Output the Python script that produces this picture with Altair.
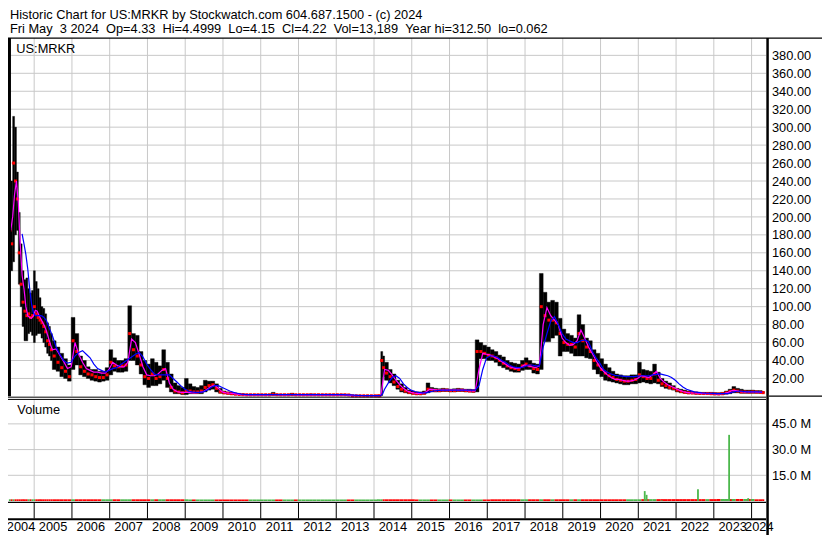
import altair as alt
import pandas as pd

# ------------------------------------------------------------------ texts
TITLE_LINE_1 = "Historic Chart for US:MRKR by Stockwatch.com 604.687.1500 - (c) 2024"
TITLE_LINE_2 = ("Fri May\u00a0\u00a03 2024\u00a0\u00a0Op=4.33\u00a0\u00a0Hi=4.4999\u00a0\u00a0"
                "Lo=4.15\u00a0\u00a0Cl=4.22\u00a0\u00a0Vol=13,189\u00a0\u00a0Year hi=312.50\u00a0\u00a0lo=0.062")
SYMBOL = "US:MRKR"
VOLUME_TITLE = "Volume"

# ------------------------------------------------------------------ data
# time of each sample in decimal years
t = [2004.33, 2004.38, 2004.43, 2004.48, 2004.53, 2004.58, 2004.63, 2004.68, 2004.73, 2004.78,
     2004.83, 2004.88, 2004.93, 2004.98, 2005.03, 2005.08, 2005.13, 2005.18, 2005.23, 2005.28,
     2005.33, 2005.38, 2005.43, 2005.48, 2005.58, 2005.68, 2005.78, 2005.88, 2005.98,
     2006.08, 2006.18, 2006.28, 2006.38, 2006.48, 2006.58, 2006.68, 2006.78, 2006.88, 2006.98,
     2007.08, 2007.18, 2007.28, 2007.38, 2007.48, 2007.58, 2007.68, 2007.78, 2007.88, 2007.98,
     2008.08, 2008.18, 2008.28, 2008.38, 2008.48, 2008.58, 2008.68, 2008.78, 2008.88, 2008.98,
     2009.08, 2009.18, 2009.28, 2009.38, 2009.48, 2009.58, 2009.68, 2009.78, 2009.88, 2009.98,
     2010.08, 2010.18, 2010.28, 2010.38, 2010.48, 2010.58, 2010.68, 2010.78, 2010.88, 2010.98,
     2011.08, 2011.18, 2011.28, 2011.38, 2011.48, 2011.58, 2011.68, 2011.78, 2011.88, 2011.98,
     2012.08, 2012.18, 2012.28, 2012.38, 2012.48, 2012.58, 2012.68, 2012.78, 2012.88, 2012.98,
     2013.08, 2013.18, 2013.28, 2013.38, 2013.48, 2013.58, 2013.68, 2013.78, 2013.88, 2013.98,
     2014.08, 2014.13, 2014.18, 2014.23, 2014.28, 2014.38, 2014.48, 2014.58, 2014.68, 2014.78, 2014.88, 2014.98,
     2015.08, 2015.18, 2015.28, 2015.38, 2015.48, 2015.58, 2015.68, 2015.78, 2015.88, 2015.98,
     2016.08, 2016.18, 2016.28, 2016.38, 2016.48, 2016.58, 2016.68, 2016.78, 2016.88, 2016.98,
     2017.08, 2017.18, 2017.28, 2017.38, 2017.48, 2017.58, 2017.68, 2017.78, 2017.88, 2017.98,
     2018.08, 2018.18, 2018.28, 2018.38, 2018.48, 2018.58, 2018.68, 2018.78, 2018.88, 2018.98,
     2019.08, 2019.18, 2019.28, 2019.38, 2019.48, 2019.58, 2019.68, 2019.78, 2019.88, 2019.98,
     2020.08, 2020.18, 2020.28, 2020.38, 2020.48, 2020.58, 2020.68, 2020.78, 2020.88, 2020.98,
     2021.08, 2021.18, 2021.28, 2021.38, 2021.48, 2021.58, 2021.68, 2021.78, 2021.88, 2021.98,
     2022.08, 2022.18, 2022.28, 2022.38, 2022.48, 2022.58, 2022.68, 2022.78, 2022.88, 2022.98,
     2023.08, 2023.18, 2023.28, 2023.38, 2023.48, 2023.58, 2023.68, 2023.78, 2023.88, 2023.98,
     2024.08, 2024.18, 2024.28]
LAST_DAY = 2024.336  # Fri May 3 2024

high = [228, 240, 312, 300, 250, 205, 170, 140, 130, 132, 120, 115, 118, 140, 128, 120, 110, 100, 98, 92,
        82, 78, 70, 62, 55, 48, 42, 35, 88,
        70, 45, 40, 33, 30, 30, 28, 28, 32, 52,
        43, 40, 40, 42, 101, 70, 68, 50, 40, 36,
        42, 38, 34, 52, 38, 25, 15, 12, 10, 20,
        14, 11, 10, 12, 18, 17, 17, 14, 9, 6,
        5, 4.5, 3.5, 3, 2.8, 2.4, 2.4, 2.4, 2.4, 2.4,
        2.4, 2.4, 4.5, 2.6, 2.4, 2.4, 2.4, 3.5, 2.4, 2.4,
        2.4, 2.4, 2.8, 2.4, 2.4, 2.4, 2.4, 2.4, 2.4, 2.4,
        2.4, 2.4, 2.2, 1.0, 1.0, 1.0, 1.0, 1.0, 1.0, 1.0,
        1.0, 1.0, 50, 45, 38, 30, 25, 18, 14, 10, 7, 6,
        5, 5, 6, 15, 10, 9, 8.5, 9, 8.5, 8,
        8.5, 9, 8.5, 8, 8, 7.5, 63, 60, 57, 55,
        52, 50, 46, 44, 40, 38, 37, 36, 40, 43,
        40, 37, 36, 137, 116, 105, 107, 105, 87, 75,
        70, 68, 65, 91, 80, 65, 62, 52, 48, 42,
        36, 32, 28, 25, 24, 23, 23, 24, 24, 38,
        30, 29, 28, 36, 27, 20, 17, 15, 12, 9,
        8, 7, 6, 5.5, 5, 4.5, 4.5, 4.5, 4.5, 4.2,
        4, 4.5, 6, 8, 11, 9, 8, 7, 7, 7,
        6.5, 6.5, 5.5]

low = [150, 140, 150, 180, 185, 125, 100, 78, 62, 62, 70, 72, 68, 60, 68, 70, 70, 65, 60, 55,
       48, 45, 40, 30, 28, 22, 20, 17, 30,
       35, 24, 22, 20, 18, 17, 16, 17, 18, 24,
       28, 27, 27, 28, 40, 40, 35, 25, 13, 10,
       12, 12, 14, 18, 10, 5, 3, 3, 2, 2,
       3, 3, 3, 3, 5, 7, 8, 5, 3.5, 3,
       2.5, 2, 1.8, 1.5, 1.4, 1.3, 1.3, 1.3, 1.3, 1.3,
       1.3, 1.3, 1.3, 1.3, 1.3, 1.3, 1.3, 1.3, 1.3, 1.3,
       1.3, 1.3, 1.3, 1.3, 1.3, 1.3, 1.3, 1.3, 1.3, 1.3,
       1.3, 1.3, 1.2, 0.5, 0.5, 0.5, 0.5, 0.5, 0.5, 0.5,
       0.5, 0.5, 1, 22, 18, 15, 12, 8, 5, 4, 3, 2.5,
       2, 2, 2.5, 4, 5, 5, 5, 5.5, 5.5, 5,
       5, 5.5, 5.5, 5, 5, 4.5, 5, 42, 42, 40,
       40, 38, 34, 32, 30, 28, 27, 27, 29, 30,
       30, 26, 25, 30, 61, 61, 65, 68, 45, 50,
       50, 48, 45, 45, 45, 43, 42, 30, 25, 22,
       18, 17, 16, 15, 14, 13, 13, 14, 14, 15,
       16, 15, 14, 15, 14, 11, 9, 8, 7, 5,
       4, 3.5, 3, 3, 2.5, 2.5, 2.5, 2.5, 2.2, 2,
       2, 2, 2.5, 3, 4, 4, 3.5, 3.5, 3.5, 3.5,
       3.5, 3.5, 3.8]

close = [185, 170, 260, 240, 220, 160, 125, 105, 95, 90, 92, 88, 90, 100, 92, 88, 85, 82, 78, 72,
         62, 58, 52, 45, 38, 32, 28, 22, 62,
         50, 33, 28, 25, 24, 22, 21, 21, 24, 38,
         34, 33, 34, 35, 70, 52, 45, 35, 22, 20,
         25, 20, 22, 30, 20, 10, 6, 5, 4, 6,
         6, 5, 5, 6, 10, 12, 13, 9, 5, 4,
         3.5, 3, 2.5, 2.2, 2, 1.8, 1.8, 1.8, 1.8, 1.8,
         1.8, 1.8, 2.2, 1.9, 1.8, 1.8, 1.8, 2, 1.8, 1.8,
         1.8, 1.8, 1.8, 1.8, 1.8, 1.8, 1.8, 1.8, 1.8, 1.8,
         1.8, 1.8, 1.6, 0.7, 0.7, 0.7, 0.7, 0.7, 0.7, 0.7,
         0.7, 0.7, 40, 32, 26, 22, 16, 11, 8, 6, 4.5, 3.5,
         3, 3, 3.5, 8, 7, 6.5, 6.5, 7, 7, 6.5,
         6.5, 7, 7, 6.5, 6, 6, 50, 50, 48, 46,
         45, 43, 40, 37, 34, 32, 31, 30, 34, 36,
         34, 31, 30, 100, 90, 85, 85, 82, 70, 60,
         58, 58, 55, 70, 62, 55, 50, 40, 35, 30,
         26, 23, 21, 19, 18, 17, 17, 18, 19, 24,
         22, 20, 20, 25, 18, 14, 12, 10, 9, 7,
         5.5, 4.5, 4, 3.8, 3.5, 3.3, 3.2, 3.2, 3, 2.8,
         2.7, 3, 4, 5.5, 7, 6, 5, 5, 4.8, 5,
         4.8, 4.5, 4.2]

# short moving average (magenta) and long moving average (blue)
ma_short = [None, 185, 200, 225, 240, 215, 170, 135, 120, 100, 90, 88, 87, 90, 96, 95, 90, 86, 82, 78,
            72, 65, 58, 52, 53, 46, 39, 31, 33,
            60, 47, 38, 31, 29, 27, 27, 26, 26, 30,
            38, 35, 33, 33, 38, 64, 60, 47, 33, 24,
            23, 23, 25, 29, 31, 15, 8, 5.5, 4.5, 4.5,
            4.5, 4, 4, 4.5, 5.5, 8, 11, 12.5, 9, 5,
            4, 3.5, 3, 2.5, 2, 1.8, 1.8, 1.8, 1.8, 1.8,
            1.8, 1.8, 2, 2, 1.9, 1.8, 1.8, 1.9, 1.9, 1.8,
            1.8, 1.8, 1.8, 1.8, 1.8, 1.8, 1.8, 1.8, 1.8, 1.8,
            1.8, 1.8, 1.7, 0.9, 0.7, 0.7, 0.7, 0.7, 0.7, 0.7,
            0.7, 0.7, 1, 15, 30, 29, 24, 18, 13, 9, 6, 4.5,
            3.5, 3, 3.5, 5, 8, 7.5, 7, 7, 7, 7,
            7, 7, 7, 7, 6.5, 6, 6, 30, 48, 47,
            46, 44, 42, 39, 36, 33, 32, 31, 32, 35,
            34, 33, 32, 34, 80, 99, 90, 85, 80, 65,
            60, 57, 58, 62, 74, 65, 55, 48, 40, 33,
            28, 24, 21, 19, 19, 18, 17, 17, 18, 20,
            23, 22, 21, 24, 28, 20, 16, 13, 11, 9,
            7, 5.5, 4.5, 4, 3.8, 3.5, 3.3, 3.2, 3.1, 3,
            2.8, 2.8, 3.5, 4.5, 6.5, 6.5, 5.5, 5, 5, 5,
            5, 4.8, 4.5]

ma_long = [None, None, None, None, None, None, None, 181, 170, 158, 142, 120, 103, 93, 90, 90, 90, 90, 89, 87,
           84, 78, 73, 68, 55, 47, 40, 37, 38,
           45, 49, 51, 47, 43, 36, 31, 29, 27, 29,
           31, 32, 35, 38, 41, 44, 47, 49, 44, 36,
           30, 25, 24, 24, 24, 24, 20, 16, 12, 8.5,
           6, 5, 4.5, 4.5, 5, 7, 10, 12, 12, 10,
           8, 6, 4.5, 3.5, 2.5, 2.2, 2, 1.9, 1.9, 1.9,
           1.9, 1.9, 1.9, 1.9, 1.9, 1.9, 1.9, 1.9, 1.9, 1.9,
           1.9, 1.9, 1.9, 1.9, 1.9, 1.9, 1.9, 1.9, 1.9, 1.9,
           1.9, 1.9, 1.8, 1.6, 1.4, 1.2, 1.0, 0.9, 0.8, 0.8,
           0.8, 0.8, 0.8, 3, 8, 15, 21, 23, 20, 14, 10, 7,
           5.5, 4.5, 4, 4, 5, 6, 6.5, 7, 7, 7,
           7, 7, 7, 7, 7, 7, 7, 12, 30, 43,
           45, 45, 43, 40, 38, 35, 33, 32, 32, 33,
           35, 35, 34, 34, 55, 70, 84, 89, 80, 70,
           64, 62, 60, 60, 62, 63, 61, 50, 43, 37,
           30, 27, 25, 23.5, 23, 22.5, 22, 22, 22, 22.5,
           23, 23, 23, 24, 24.5, 25, 24, 23, 21, 18,
           14, 10.5, 8, 6.5, 5, 4.5, 4, 3.7, 3.5, 3.3,
           3.1, 3, 3, 3.2, 4.5, 5.5, 6, 5.5, 5, 5,
           5, 5, 4.8]

# typical small daily volume per calendar year 2004..2024 (millions)
years = list(range(2004, 2025))
volume_by_year = [1.0, 1.0, 1.0, 1.0, 1.0, 0.9, 0.9, 0.9, 0.9, 0.9, 1.0,
                  0.9, 0.9, 1.0, 1.0, 1.0, 1.0, 1.1, 1.1, 1.2, 1.0]

# the visible volume spikes (millions)
spike_t = [2013.75, 2015.35, 2018.41, 2021.17, 2021.22, 2021.62, 2022.58,
           2023.27, 2023.31, 2023.405, 2023.45, 2023.53, 2023.91]
spike_vol = [0.6, 0.4, 0.75, 5.8, 3.6, 0.4, 6.9, 1.0, 1.2, 38.6, 1.0, 0.5, 1.7]
spike_dir = ["up", "up", "up", "up", "up", "up", "up", "up", "up", "up", "down", "up", "up"]

price_ticks = [20, 40, 60, 80, 100, 120, 140, 160, 180, 200, 220, 240, 260, 280, 300, 320, 340, 360, 380]
volume_ticks = [15, 30, 45]
volume_tick_labels = ["15.0 M", "30.0 M", "45.0 M"]

# ------------------------------------------------------------------ layout
REF_W, REF_H = 830, 543
W, H = 814, 527
SX, SY = W / REF_W, H / REF_H


def px(x):
    return x * SX


def py(y):
    return y * SY


FONT = "Liberation Sans"
FS = 12.8
GRID = "#c8c8c8"
GREEN = "#4cb84c"
RED = "#ff0000"

X0 = 2004.3065          # date at left edge
PX_PER_YEAR = 38.5
PLOT_RIGHT = 774
X1 = X0 + PLOT_RIGHT / PX_PER_YEAR

xs = alt.Scale(domain=[X0, X1], range=[0, px(PLOT_RIGHT)], nice=False, zero=False)
ps = alt.Scale(domain=[0, 400], range=[py(400.2), py(30.3)], nice=False, zero=False)
vs = alt.Scale(domain=[0, 60], range=[py(508), py(402)], nice=False, zero=False)
dir_color = alt.Color("dir:N", scale=alt.Scale(domain=["up", "down"], range=[GREEN, RED]), legend=None)

# ------------------------------------------------------------------ frames
df = pd.DataFrame({"t": t, "hi": high, "lo": low, "cl": close, "fast": ma_short, "slow": ma_long})
df["t2"] = df["t"].shift(-1).fillna(LAST_DAY)
df["tm"] = (df["t"] + df["t2"]) / 2
prev = df["cl"].shift(1)
df["dir"] = ["down" if (p == p and c < p) else "up" for c, p in zip(df["cl"], prev)]
df["vol"] = [volume_by_year[int(v) - years[0]] for v in df["t"]]

spikes = pd.DataFrame({"t": spike_t, "v": spike_vol, "dir": spike_dir})
bounds = pd.DataFrame({"yb": years[1:]})
labels = pd.DataFrame({
    "lab": [str(y) for y in years],
    "tc": [(max(y, X0) + min(y + 1, X1)) / 2 for y in years],
})
pt = pd.DataFrame({"v": price_ticks, "s": [f"{v:.2f}" for v in price_ticks]})
vt = pd.DataFrame({"v": volume_ticks, "s": volume_tick_labels})
ONE = pd.DataFrame({"k": [0]})

X = lambda f: alt.X(f, scale=xs, axis=None)


def hline(y, x1, x2, w=1.0, color="black"):
    return alt.Chart(ONE).mark_rule(color=color, strokeWidth=w).encode(
        x=alt.value(px(x1)), x2=alt.value(px(x2)), y=alt.value(py(y)))


def vline(x, y1, y2, w=1.0, color="black"):
    return alt.Chart(ONE).mark_rule(color=color, strokeWidth=w).encode(
        x=alt.value(px(x)), y=alt.value(py(y1)), y2=alt.value(py(y2)))


def text(s, x, y):
    return alt.Chart(pd.DataFrame({"s": [s]})).mark_text(
        align="left", baseline="alphabetic", font=FONT, fontSize=FS, color="black").encode(
        x=alt.value(px(x)), y=alt.value(py(y)), text="s:N")


layers = []
# grid
layers.append(alt.Chart(pt).mark_rule(color=GRID, strokeWidth=1).encode(
    y=alt.Y("v:Q", scale=ps, axis=None), x=alt.value(0), x2=alt.value(px(773))))
layers.append(alt.Chart(vt).mark_rule(color=GRID, strokeWidth=1).encode(
    y=alt.Y("v:Q", scale=vs, axis=None), x=alt.value(0), x2=alt.value(px(773))))
layers.append(alt.Chart(bounds).mark_rule(color=GRID, strokeWidth=1).encode(
    x=X("yb:Q"), y=alt.value(py(31)), y2=alt.value(py(400))))
layers.append(alt.Chart(bounds).mark_rule(color=GRID, strokeWidth=1).encode(
    x=X("yb:Q"), y=alt.value(py(404)), y2=alt.value(py(508))))
layers.append(alt.Chart(bounds).mark_rule(color="black", strokeWidth=1).encode(
    x=X("yb:Q"), y=alt.value(py(509)), y2=alt.value(py(526))))

# volume
layers.append(alt.Chart(df).mark_bar().encode(
    x=X("t:Q"), x2="t2:Q", y=alt.Y("vol:Q", scale=vs, axis=None), y2=alt.datum(0), color=dir_color))
layers.append(alt.Chart(spikes).mark_rule(strokeWidth=1.8).encode(
    x=X("t:Q"), y=alt.Y("v:Q", scale=vs, axis=None), y2=alt.datum(0), color=dir_color))

# price
layers.append(alt.Chart(df).mark_bar(color="black", stroke="black", strokeWidth=0.4).encode(
    x=X("t:Q"), x2="t2:Q", y=alt.Y("lo:Q", scale=ps, axis=None), y2="hi:Q"))
layers.append(alt.Chart(df).mark_square(color=RED, size=9, opacity=1).encode(
    x=X("tm:Q"), y=alt.Y("cl:Q", scale=ps, axis=None)))
layers.append(alt.Chart(df).mark_line(color="#ff00ff", strokeWidth=1.2).encode(
    x=X("t:Q"), y=alt.Y("fast:Q", scale=ps, axis=None)))
layers.append(alt.Chart(df).mark_line(color="#0000ff", strokeWidth=1.2).encode(
    x=X("t:Q"), y=alt.Y("slow:Q", scale=ps, axis=None)))

# frame lines
layers += [
    hline(31, 0, REF_W, 1.2),
    vline(1.5, 31, 400, 3),
    vline(774.5, 31, REF_H, 2.5),
    hline(401, 0, 773, 1),
    hline(403.3, 0, 773, 1),
    hline(400, 776, REF_W, 1.3),
    hline(509.3, 0, 773, 1.3),
    hline(526.7, 0, 773, 2),
]

# texts
layers += [
    text(TITLE_LINE_1, 2, 11.5),
    text(TITLE_LINE_2, 2, 26),
    text(SYMBOL, 8.5, 46.5),
    text(VOLUME_TITLE, 9.5, 418.5),
]
layers.append(alt.Chart(pt).mark_text(align="left", baseline="alphabetic", dy=4.6, font=FONT,
                                      fontSize=FS, color="black").encode(
    x=alt.value(px(779)), y=alt.Y("v:Q", scale=ps, axis=None), text="s:N"))
layers.append(alt.Chart(vt).mark_text(align="left", baseline="alphabetic", dy=4.6, font=FONT,
                                      fontSize=FS, color="black").encode(
    x=alt.value(px(779)), y=alt.Y("v:Q", scale=vs, axis=None), text="s:N"))
layers.append(alt.Chart(labels).mark_text(align="center", baseline="alphabetic", font=FONT,
                                          fontSize=FS, color="black").encode(
    x=X("tc:Q"), y=alt.value(py(538.5)), text="lab:N"))

chart = alt.layer(*layers).resolve_scale(y="independent").properties(
    width=W, height=H, padding=0, background="white",
    autosize=alt.AutoSizeParams(type="none"),
).configure_view(strokeWidth=0)

chart.save("out.html", embed_options={"renderer": "svg", "actions": False})
